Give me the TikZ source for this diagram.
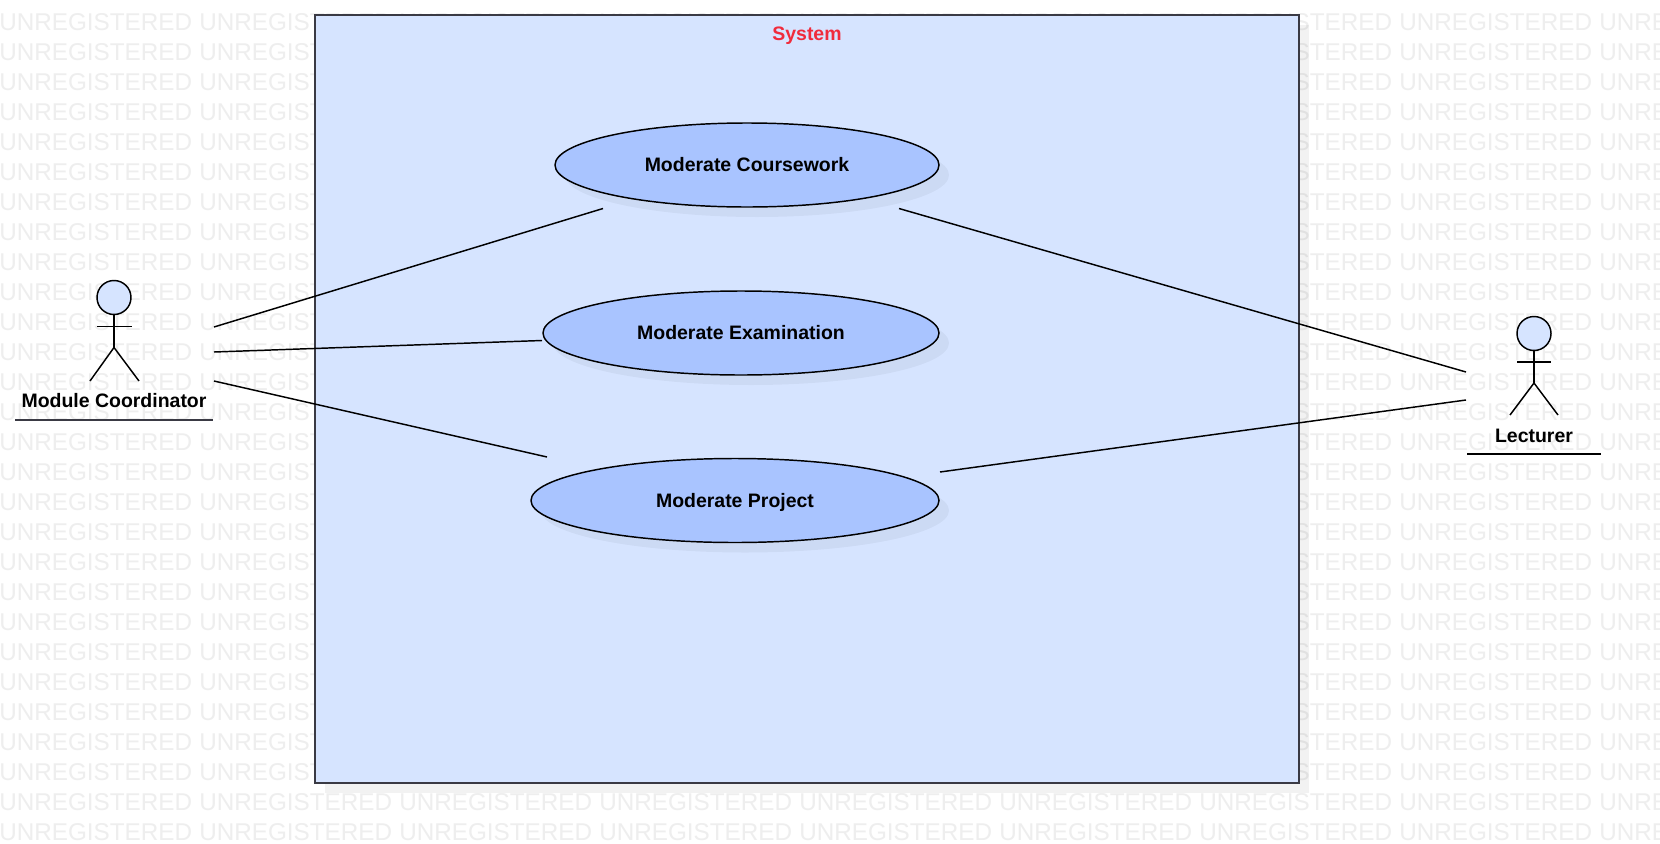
\documentclass[tikz,border=0pt]{standalone}
\usepackage{fontspec}
\setmainfont{Liberation Sans}
\usepackage{xcolor}
\usetikzlibrary{calc,positioning,shapes.geometric,shadows}
\definecolor{sysfill}{HTML}{D6E4FF}
\definecolor{casefill}{HTML}{A9C4FF}
\definecolor{sysline}{HTML}{3A3A44}
\definecolor{sysred}{HTML}{F02B3C}
\definecolor{stamp}{HTML}{EEEEEE}
\tikzset{
		>=stealth,
		stampword/.style={anchor=west,inner sep=0pt,text=stamp,font=\fontsize{18.2pt}{20pt}\selectfont},
		labeltext/.style={inner sep=0pt,text height=12pt,text depth=2.2pt,font=\bfseries\fontsize{14.6pt}{18pt}\selectfont},
		sysbox/.style={draw=sysline,fill=sysfill,line width=1.5pt,drop shadow={shadow xshift=7.5pt,shadow yshift=-7.5pt,opacity=0.05,fill=black}},
		usecase/.style={ellipse,draw=black,fill=casefill,line width=1.1pt,labeltext,drop shadow={shadow xshift=7.5pt,shadow yshift=-7.5pt,opacity=0.045,fill=black}},
		actorhead/.style={circle,draw=black,fill=sysfill,line width=1.1pt,inner sep=0pt,minimum size=25.5pt},
		link/.style={black,line width=1.1pt}
	}

\begin{document}
\begin{tikzpicture}[x=0.75pt,y=-0.75pt]
          \clip (0,0) rectangle (1660,843);
          \fill[white] (0,0) rectangle (1660,843);

          \foreach \row in {0,...,27}
            \foreach \col in {0,...,8}
              \node[stampword] (stamp\row-\col) at ({-1+200*\col},{22.5+30*\row}) {UNREGISTERED};

          \node[sysbox,minimum width=738pt,minimum height=576pt,inner sep=0pt] (system) at (807,399) {};
          \node[labeltext,text=sysred] (systemname) at (807,33.5) {System};

          \node[usecase,minimum width=288pt,minimum height=63pt] (coursework) at (747,165) {Moderate Coursework};
          \node[usecase,minimum width=297pt,minimum height=63pt] (examination) at (741,333) {Moderate Examination};
          \node[usecase,minimum width=306pt,minimum height=63pt] (project) at (735,500.5) {Moderate Project};

          % module coordinator
          \node[actorhead] (coordhead) at (114,297.5) {};
          \coordinate (coordhip) at (114,347.5);
          \coordinate (coordarmL) at (97,326.5);
          \coordinate (coordarmR) at (132,326.5);
          \coordinate (coordlegL) at (90,381);
          \coordinate (coordlegR) at (139,381);
          \draw[link] (coordhead) -- (coordhip);
          \draw[link] (coordarmL) -- (coordarmR);
          \draw[link] (coordlegL) -- (coordhip) -- (coordlegR);
          \node[labeltext] (coordname) at (114,400.5) {Module Coordinator};
          \coordinate (coordlineL) at (15,420);
          \coordinate (coordlineR) at (213,420);
          \draw[sysline,line width=1.1pt] (coordlineL) -- (coordlineR);

          % lecturer
          \node[actorhead] (lecthead) at (1534,333.5) {};
          \coordinate (lecthip) at (1534,383);
          \coordinate (lectarmL) at (1517,362);
          \coordinate (lectarmR) at (1551,362);
          \coordinate (lectlegL) at (1510,415);
          \coordinate (lectlegR) at (1558,415);
          \draw[link] (lecthead) -- (lecthip);
          \draw[link] (lectarmL) -- (lectarmR);
          \draw[link] (lectlegL) -- (lecthip) -- (lectlegR);
          \node[labeltext] (lectname) at (1534,436) {Lecturer};
          \coordinate (lectlineL) at (1467,454);
          \coordinate (lectlineR) at (1601,454);
          \draw[link] (lectlineL) -- (lectlineR);

          % the links stop short of the shapes
          \coordinate (C1) at (214,327);
          \coordinate (C2) at (214,352);
          \coordinate (C3) at (214,381);
          \coordinate (L1) at (1466,372);
          \coordinate (L2) at (1466,400);
          \coordinate (W1) at (603,208.5);
          \coordinate (W2) at (899,208.5);
          \coordinate (E1) at (542,340.5);
          \coordinate (P1) at (547,457);
          \coordinate (P2) at (940,472);

          \draw[link] (C1) -- (W1);
          \draw[link] (C2) -- (E1);
          \draw[link] (C3) -- (P1);
          \draw[link] (L1) -- (W2);
          \draw[link] (L2) -- (P2);
          \end{tikzpicture}
\end{document}
